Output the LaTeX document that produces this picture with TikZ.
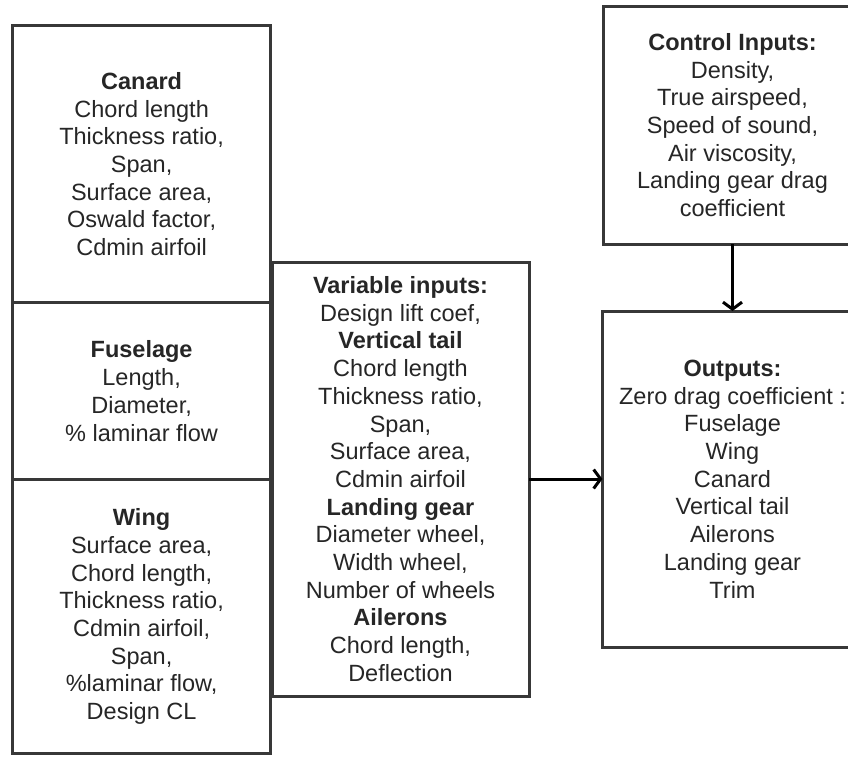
\documentclass[tikz,border=0pt]{standalone}
\usepackage{fontspec}
\setmainfont{Liberation Sans}
\usetikzlibrary{arrows.meta}
\definecolor{boxline}{HTML}{383838}
\definecolor{txt}{HTML}{262626}
\begin{document}
\begin{tikzpicture}[x=1pt,y=-1pt,
  block/.style={draw=boxline,line width=3pt,fill=white,align=center,
    inner sep=0pt,outer sep=0pt,text=txt,
    font=\fontsize{23.5}{27.7}\selectfont},
  flow/.style={line width=3pt,draw=black,
    -{Straight Barb[length=7pt,width=19pt,line width=3pt]}}]
\useasboundingbox (0,0) rectangle (848,756);
\clip (0,0) rectangle (848,756);
\fill[white] (0,0) rectangle (848,756);

% left stack: component geometry
\node[block,minimum width=258pt,minimum height=277pt] (canard) at (141.6,164.1)
  {\textbf{Canard}\\Chord length\\Thickness ratio,\\Span,\\Surface area,\\Oswald factor,\\Cdmin airfoil};
\node[block,minimum width=258pt,minimum height=177pt] (fuselage) at (141.6,391.1)
  {\textbf{Fuselage}\\Length,\\Diameter,\\\% laminar flow};
\node[block,minimum width=258pt,minimum height=274pt] (wing) at (141.6,616.5)
  {\textbf{Wing}\\Surface area,\\Chord length,\\Thickness ratio,\\Cdmin airfoil,\\Span,\\\%laminar flow,\\Design CL};

% variable inputs
\node[block,minimum width=257pt,minimum height=434pt] (var) at (400.5,479)
  {\textbf{Variable inputs:}\\Design lift coef,\\\textbf{Vertical tail}\\Chord length\\Thickness ratio,\\Span,\\Surface area,\\Cdmin airfoil\\\textbf{Landing gear}\\Diameter wheel,\\Width wheel,\\Number of wheels\\\textbf{Ailerons}\\Chord length,\\Deflection};

% control inputs and outputs
\node[block,minimum width=259pt,minimum height=238pt] (ctrl) at (732.5,125)
  {\textbf{Control Inputs:}\\Density,\\True airspeed,\\Speed of sound,\\Air viscosity,\\Landing gear drag\\coefficient};
\node[block,minimum width=260pt,minimum height=336pt] (out) at (732.5,479)
  {\textbf{Outputs:}\\Zero drag coefficient :\\Fuselage\\Wing\\Canard\\Vertical tail\\Ailerons\\Landing gear\\Trim};

% connectors
\draw[flow] (var.east) -- (out.west);
\draw[flow] (ctrl.south) -- (out.north);
\end{tikzpicture}
\end{document}
